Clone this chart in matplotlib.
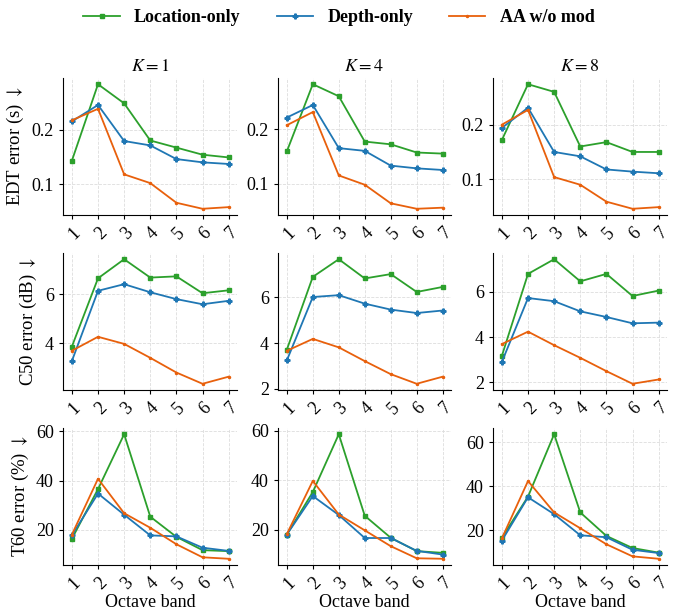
import numpy as np
import matplotlib
matplotlib.use('Agg')
import matplotlib.pyplot as plt

plt.rcParams['font.family'] = ['Liberation Serif', 'DejaVu Serif']
plt.rcParams['mathtext.fontset'] = 'stix'

bands = [1, 2, 3, 4, 5, 6, 7]
k_values = [1, 4, 8]
methods = ['Location-only', 'Depth-only', 'AA w/o mod']
metrics = [r'EDT error (s) $\downarrow$', r'C50 error (dB) $\downarrow$', r'T60 error (%) $\downarrow$']

# EDT per K: location, depth, aa
edt_k1_loc = [0.143, 0.283, 0.248, 0.180, 0.167, 0.154, 0.149]
edt_k1_dep = [0.215, 0.245, 0.179, 0.171, 0.146, 0.140, 0.137]
edt_k1_aa = [0.217, 0.238, 0.118, 0.102, 0.066, 0.055, 0.058]
edt_k4_loc = [0.159, 0.282, 0.260, 0.177, 0.172, 0.157, 0.155]
edt_k4_dep = [0.221, 0.244, 0.165, 0.160, 0.133, 0.128, 0.125]
edt_k4_aa = [0.207, 0.231, 0.115, 0.098, 0.064, 0.054, 0.056]
edt_k8_loc = [0.172, 0.274, 0.260, 0.160, 0.168, 0.150, 0.150]
edt_k8_dep = [0.194, 0.231, 0.150, 0.142, 0.118, 0.114, 0.111]
edt_k8_aa = [0.200, 0.227, 0.104, 0.090, 0.059, 0.046, 0.049]

c50_k1_loc = [3.86, 6.65, 7.43, 6.68, 6.73, 6.04, 6.16]
c50_k1_dep = [3.27, 6.14, 6.41, 6.08, 5.80, 5.59, 5.73]
c50_k1_aa = [3.69, 4.26, 3.97, 3.40, 2.80, 2.34, 2.63]
c50_k4_loc = [3.71, 6.89, 7.66, 6.82, 7.01, 6.23, 6.45]
c50_k4_dep = [3.24, 6.01, 6.09, 5.72, 5.46, 5.31, 5.42]
c50_k4_aa = [3.66, 4.18, 3.81, 3.21, 2.64, 2.22, 2.53]
c50_k8_loc = [3.17, 6.80, 7.45, 6.47, 6.80, 5.82, 6.06]
c50_k8_dep = [2.90, 5.73, 5.59, 5.14, 4.89, 4.61, 4.64]
c50_k8_aa = [3.69, 4.24, 3.64, 3.08, 2.49, 1.93, 2.12]

t60_k1_loc = [16.3, 36.5, 58.8, 25.3, 17.1, 11.7, 11.3]
t60_k1_dep = [17.7, 34.7, 26.1, 17.7, 17.3, 12.7, 11.4]
t60_k1_aa = [18.0, 40.7, 26.7, 20.8, 14.1, 8.8, 8.2]
t60_k4_loc = [18.0, 35.2, 58.6, 25.6, 16.7, 11.3, 10.6]
t60_k4_dep = [18.0, 33.6, 25.9, 16.6, 16.6, 11.4, 9.9]
t60_k4_aa = [18.2, 39.7, 26.1, 19.7, 13.3, 8.4, 8.2]
t60_k8_loc = [16.6, 35.3, 63.7, 28.1, 17.4, 11.9, 9.8]
t60_k8_dep = [15.3, 35.0, 27.3, 17.7, 16.8, 11.1, 9.6]
t60_k8_aa = [16.3, 42.4, 28.1, 20.9, 13.6, 8.1, 7.0]

data = [
    [[edt_k1_loc, edt_k1_dep, edt_k1_aa], [edt_k4_loc, edt_k4_dep, edt_k4_aa], [edt_k8_loc, edt_k8_dep, edt_k8_aa]],
    [[c50_k1_loc, c50_k1_dep, c50_k1_aa], [c50_k4_loc, c50_k4_dep, c50_k4_aa], [c50_k8_loc, c50_k8_dep, c50_k8_aa]],
    [[t60_k1_loc, t60_k1_dep, t60_k1_aa], [t60_k4_loc, t60_k4_dep, t60_k4_aa], [t60_k8_loc, t60_k8_dep, t60_k8_aa]],
]

colors = ['#2ca02c', '#1f77b4', '#e8600c']
markers = ['s', 'P', '.']
msizes = [3, 3.5, 3]

W, H = 678, 610
fig = plt.figure(figsize=(W / 100, H / 100), dpi=100)

lefts = [63, 278, 493]
widths = [174, 173, 174]
tops = [78, 253, 428]
height = 137

axes = []
for r in range(3):
    row = []
    for c in range(3):
        ax = fig.add_axes([lefts[c] / W, 1 - (tops[r] + height) / H, widths[c] / W, height / H])
        for m in range(3):
            ax.plot(bands, data[r][c][m], color=colors[m], marker=markers[m],
                    markersize=msizes[m], linewidth=1.3, label=methods[m])
        ax.set_xlim(0.66, 7.32)
        ax.set_xticks(bands)
        ax.set_xticklabels([str(b) for b in bands], rotation=45, ha='right',
                           rotation_mode='anchor')
        ax.tick_params(labelsize=13, direction='out', length=3, width=0.8)
        ax.grid(True, linestyle='--', linewidth=0.6, color='#dddddd')
        ax.spines['top'].set_visible(False)
        ax.spines['right'].set_visible(False)
        if r == 0:
            ax.set_title(r'$K=%d$' % k_values[c], fontsize=13, pad=5)
        if c == 0:
            ax.set_ylabel(metrics[r], fontsize=13.5)
        if r == 2:
            ax.set_xlabel('Octave band', fontsize=13, labelpad=1)
        row.append(ax)
    axes.append(row)

axes[1][1].set_yticks([2, 4, 6])
axes[1][2].set_yticks([2, 4, 6])
axes[1][0].set_yticks([4, 6])
for ax in axes[2]:
    ax.set_yticks([20, 40, 60])

handles, labels = axes[0][0].get_legend_handles_labels()
fig.legend(handles, labels, loc='upper center', ncol=3, frameon=False,
           bbox_to_anchor=(0.5, 1.012), prop={'weight': 'bold', 'size': 13},
           handlelength=2.0, handletextpad=0.8, columnspacing=2.0)

fig.savefig('out.png', dpi=100)
